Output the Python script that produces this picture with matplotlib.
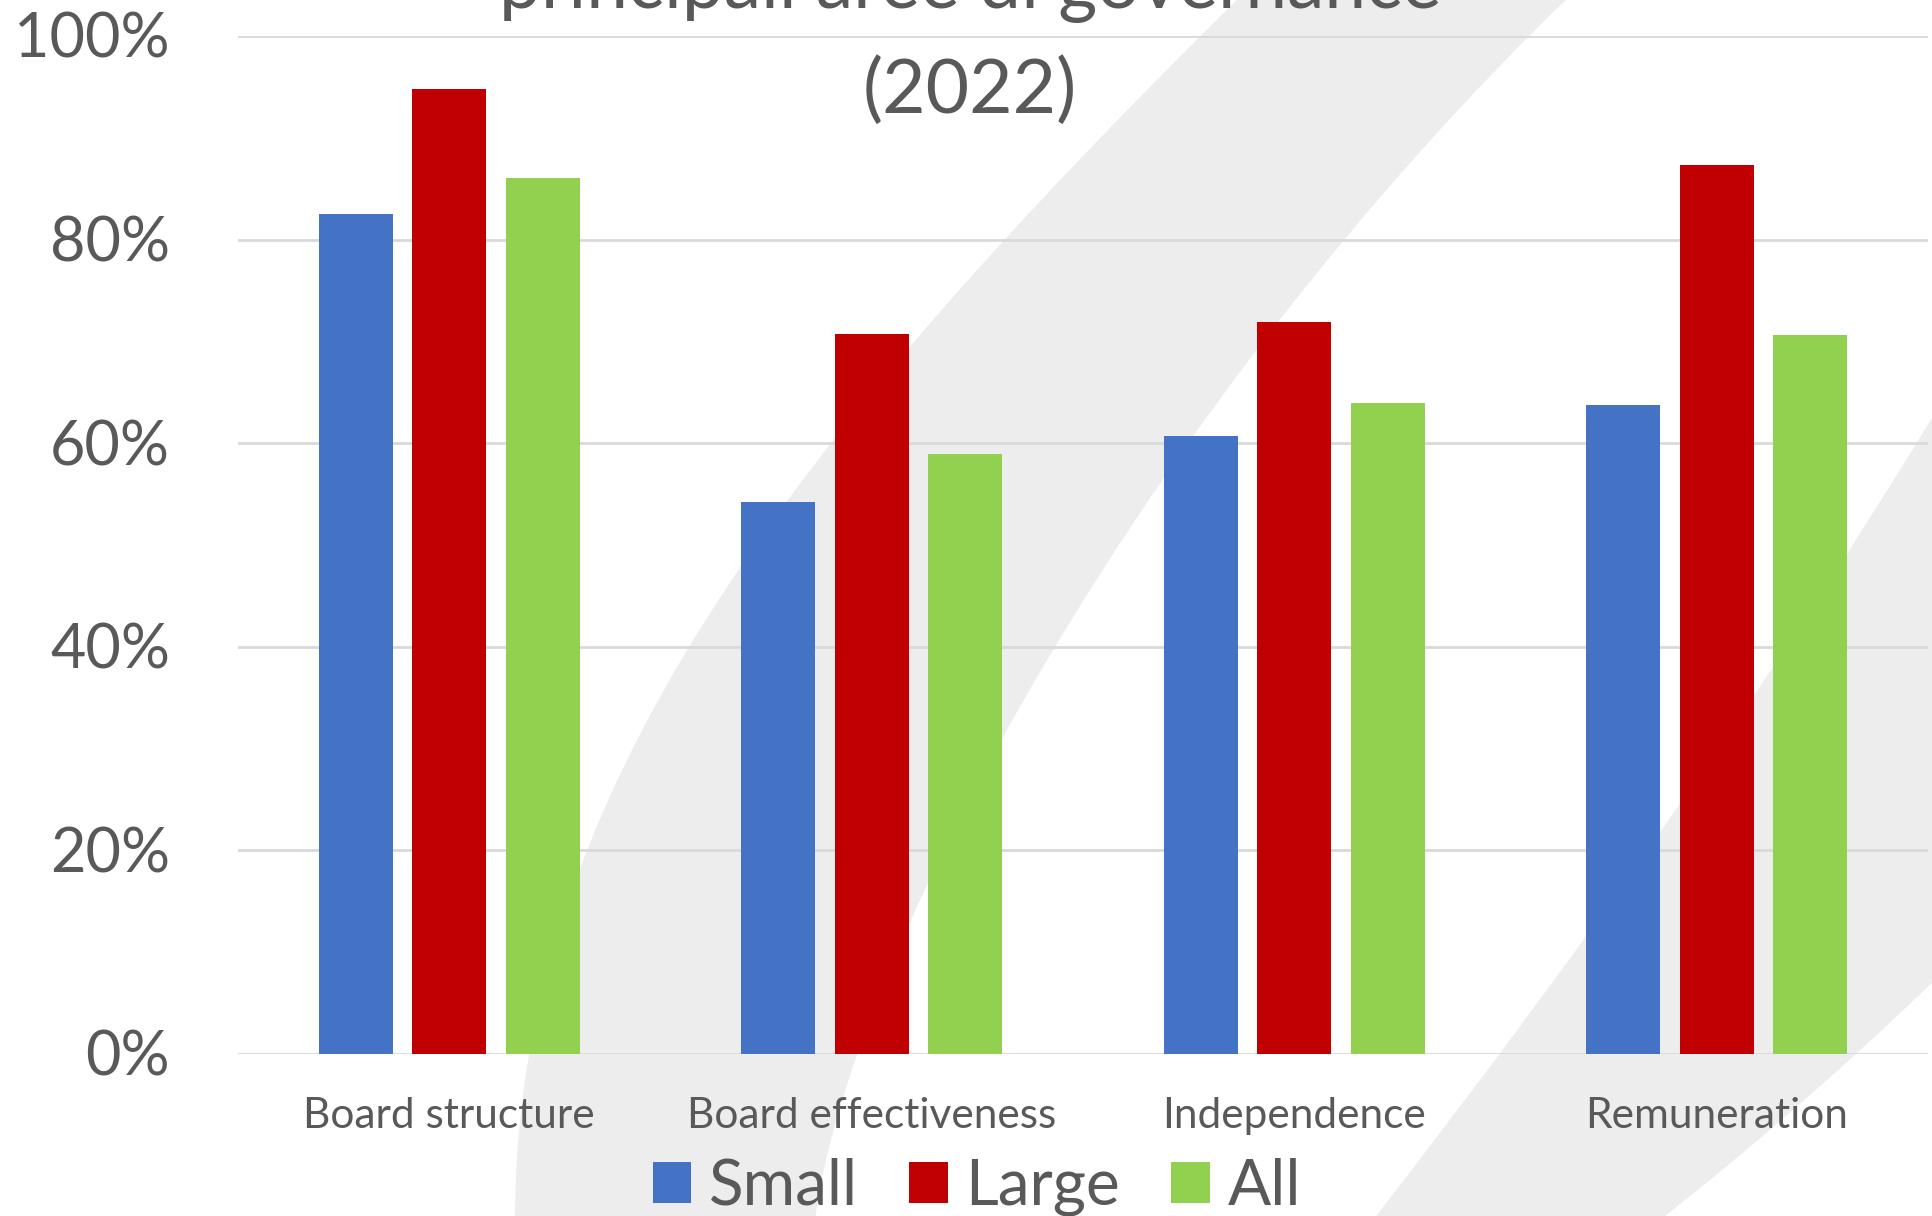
import numpy as np
import matplotlib.pyplot as plt
from matplotlib.path import Path
from matplotlib.patches import PathPatch
from matplotlib.transforms import offset_copy

categories = ['Board structure', 'Board effectiveness', 'Independence', 'Remuneration']
small = [82.5, 54.2, 60.7, 63.8]
large = [94.8, 70.7, 71.9, 87.3]
all_firms = [86.1, 58.9, 63.9, 70.6]
series_names = ['Small', 'Large', 'All']
series_colors = ['#4472C4', '#C00000', '#92D050']
yticks = [0, 20, 40, 60, 80, 100]

plt.rcParams['font.family'] = ['Lato', 'DejaVu Sans']
text_col = '#595959'
band_col = '#ededed'

W, H = 1932, 1216
fig = plt.figure(figsize=(W / 100, H / 100), dpi=100)

# grey swooshes behind the chart, in pixel coordinates
bg = fig.add_axes([0, 0, 1, 1], zorder=0)
bg.set_xlim(0, W)
bg.set_ylim(H, 0)
bg.axis('off')
M, C4, C3, L, CL = Path.MOVETO, Path.CURVE4, Path.CURVE3, Path.LINETO, Path.CLOSEPOLY
band1 = Path([(1242, -5), (780, 450), (515, 800), (515, 1220),
              (815, 1220), (850, 950), (1150, 400), (1571, -5), (1242, -5)],
             [M, C4, C4, C4, L, C4, C4, C4, CL])
band2 = Path([(1935, 413), (1700, 800), (1373, 1220),
              (1660, 1220), (1800, 1110), (1935, 980), (1935, 413)],
             [M, C3, C3, L, C3, C3, CL])
for p in (band1, band2):
    bg.add_patch(PathPatch(p, facecolor=band_col, edgecolor='none'))

ax = fig.add_axes([238 / W, 1 - 1054 / H, (1928 - 238) / W, 1018 / H], zorder=1)
ax.patch.set_visible(False)

x = np.arange(len(categories))
bw = 0.175
off = 0.2216
handles = []
for k, (vals, col) in enumerate(zip([small, large, all_firms], series_colors)):
    b = ax.bar(x + (k - 1) * off, np.array(vals) / 100, bw, color=col, zorder=2)
    handles.append(b)

ax.set_xlim(-0.5, len(categories) - 0.5)
ax.set_ylim(0, 1)
ax.set_yticks([v / 100 for v in yticks])
ax.yaxis.grid(True, color='#d9d9d9', linewidth=2)
ax.set_axisbelow(True)
for s in ax.spines.values():
    s.set_visible(False)
ax.tick_params(length=0, labelleft=False, labelbottom=False)

ytr = offset_copy(ax.get_yaxis_transform(), fig=fig, y=-22, units='dots')
for v in yticks:
    ax.text(-0.0402, v / 100, f'{v}%', transform=ytr, ha='right', va='baseline',
            fontsize=44, color=text_col)

for i, cat in enumerate(categories):
    ax.text(i, -0.0727, cat, transform=ax.get_xaxis_transform(), ha='center',
            va='baseline', fontsize=30.5, color=text_col)

fig.text(970 / W, 1 - 8 / H, 'principali aree di governance', ha='center',
         va='baseline', fontsize=54, color=text_col)
fig.text(970 / W, 1 - 113 / H, '(2022)', ha='center', va='baseline',
         fontsize=54, color=text_col)

fig.legend(handles, series_names, loc='center', bbox_to_anchor=(977 / W, 1 - 1187 / H),
           ncol=3, frameon=False, fontsize=46, handlelength=0.6, handleheight=0.6,
           handletextpad=0.28, columnspacing=0.8, labelcolor=text_col,
           borderaxespad=0, borderpad=0)

fig.savefig('out.png', dpi=100)
